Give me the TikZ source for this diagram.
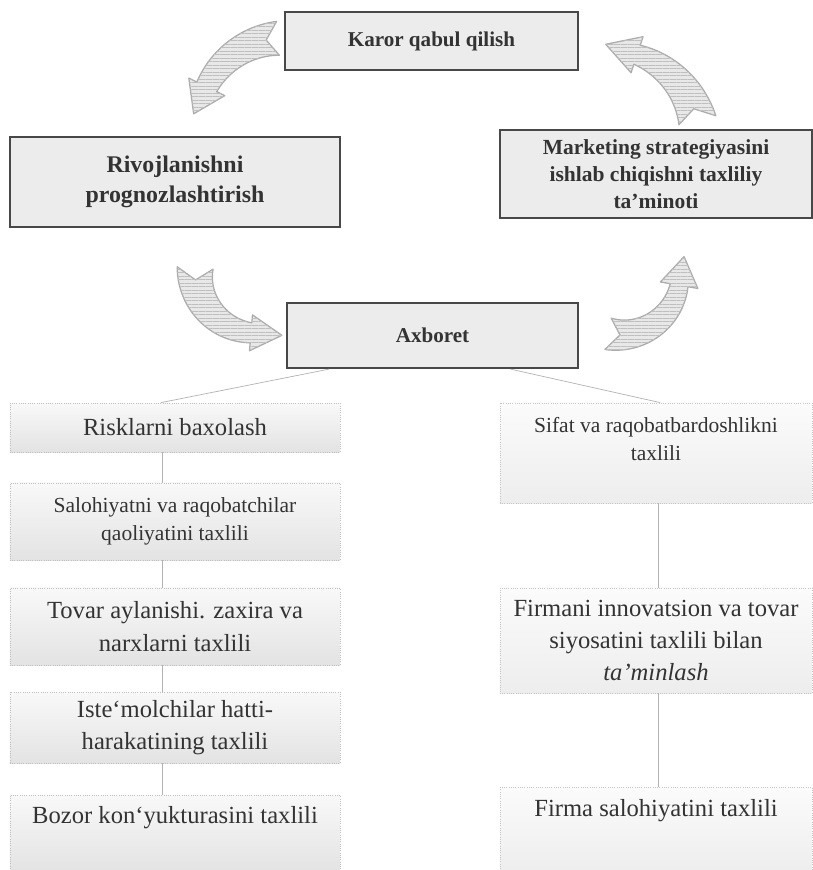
\documentclass[tikz,border=0pt]{standalone}
\usepackage{fontspec}
\setmainfont{Liberation Serif}
\usetikzlibrary{calc,patterns.meta}
\definecolor{bordc}{HTML}{484848}
\definecolor{txtc}{HTML}{333333}
\definecolor{topfill}{HTML}{ECECEC}
\newcommand\curvedarrow[9]{%
  \pgfmathsetmacro\nD{(12/#3)*(180/pi)/abs(#5-(#4))}%
  \pgfmathsetmacro\nA{#4+(#5-(#4))*\nD}%
  \draw[blockarrow]
    plot[domain=#4:#5, samples=30, variable=\t]
      ({#1+(#3+#6+(#7-#6)*(\t-(#4))/((#5)-(#4)))*cos(\t)},
       {#2+(#3+#6+(#7-#6)*(\t-(#4))/((#5)-(#4)))*sin(\t)})
    -- ({#1+(#3+#8)*cos(#5)},{#2+(#3+#8)*sin(#5)})
    -- ({#1+#3*cos(#5)+#9*cos(#5-90)},{#2+#3*sin(#5)+#9*sin(#5-90)})
    -- ({#1+(#3-#8)*cos(#5)},{#2+(#3-#8)*sin(#5)})
    -- plot[domain=#5:#4, samples=30, variable=\t]
      ({#1+(#3-#6-(#7-#6)*(\t-(#4))/((#5)-(#4)))*cos(\t)},
       {#2+(#3-#6-(#7-#6)*(\t-(#4))/((#5)-(#4)))*sin(\t)})
    -- ({#1+#3*cos(\nA)},{#2+#3*sin(\nA)})
    -- cycle;
}
\begin{document}
\begin{tikzpicture}[x=0.025cm,y=-0.025cm,
  topbox/.style={draw=bordc, line width=1.6pt, fill=topfill, text=txtc,
    font=\bfseries\fontsize{15}{19}\selectfont, align=center, inner sep=0pt},
  lbox/.style={draw=gray!50, densely dotted, line width=0.6pt, top color=gray!5,
    bottom color=gray!22, text=txtc, align=center, inner sep=0pt},
  rbox/.style={draw=gray!45, densely dotted, line width=0.6pt, top color=gray!3,
    bottom color=gray!14, text=txtc, align=center, inner sep=0pt},
  txt/.style={text=txtc, align=center, inner sep=0pt},
  big/.style={font=\fontsize{17.5}{23}\selectfont},
  small/.style={font=\fontsize{15.3}{20}\selectfont},
  conn/.style={draw=gray!60, line width=0.5pt},
  blockarrow/.style={fill=gray!18, draw=gray!65, line width=0.9pt, line join=round,
    postaction={pattern={Lines[angle=0,distance=2.5pt,line width=0.35pt]}, pattern color=gray!50}}
]
\useasboundingbox (0,0) rectangle (813,870);

% curved block arrows
\curvedarrow{285}{125}{87}{-94.6}{-154}{17}{11}{20}{30}
\curvedarrow{608}{142}{92}{-13.7}{-71.6}{19}{10}{19}{33}
\curvedarrow{256}{272}{61}{183.8}{94.7}{18}{10}{18}{31}
\curvedarrow{620}{275}{60}{101.5}{9.8}{16}{9}{19}{29}

% top boxes
\node[topbox, minimum width=7.325cm, minimum height=1.45cm] (karor) at (431.5,41) {Karor qabul qilish};
\node[topbox, font=\bfseries\fontsize{17}{21}\selectfont, minimum width=8.25cm, minimum height=2.25cm] (rivoj) at (175,182) {Rivojlanishni\\prognozlashtirish};
\node[topbox, font=\bfseries\fontsize{15.3}{19}\selectfont, minimum width=7.8cm, minimum height=2.2cm] (mark) at (656,174) {Marketing strategiyasini\\ishlab chiqishni taxliliy\\ta'minoti};
\node[topbox, minimum width=7.275cm, minimum height=1.625cm] (axb) at (432.5,335.5) {Axboret};

% left column
\node[lbox, big, minimum width=8.25cm, minimum height=1.225cm] (risk) at (175,427.5) {Risklarni baxolash};
\node[lbox, small, minimum width=8.25cm, minimum height=1.925cm] (salo) at (175,521.5) {Salohiyatni va raqobatchilar\\qaoliyatini taxlili};
\node[lbox, big, minimum width=8.25cm, minimum height=1.925cm] (tovar) at (175,626.5) {Tovar aylanishi. zaxira va\\narxlarni taxlili};
\node[lbox, big, minimum width=8.25cm, minimum height=1.775cm] (istem) at (175,727.5) {Iste`molchilar hatti-\\harakatining taxlili};
\node[lbox, minimum width=8.25cm, minimum height=1.925cm] (bozor) at (175,833.5) {};
\node[txt, big] (bozort) at (175,818) {Bozor kon`yukturasini taxlili};

% right column
\node[rbox, minimum width=7.8cm, minimum height=2.5cm] (sifat) at (656,453) {};
\node[txt, small] (sifatt) at (656,439) {Sifat va raqobatbardoshlikni\\taxlili};
\node[rbox, big, minimum width=7.8cm, minimum height=2.625cm] (firm) at (656,640.5) {Firmani innovatsion va tovar\\siyosatini taxlili bilan\\\textit{ta'minlash}};
\node[rbox, minimum width=7.8cm, minimum height=2.125cm] (firma) at (656,830) {};
\node[txt, big] (firmat) at (656,811) {Firma salohiyatini taxlili};

% connectors
\coordinate (lx) at (162,0);
\coordinate (rx) at (658,0);
\draw[conn] ($(axb.south west)!0.147!(axb.south east)$) -- ($(risk.north west)!0.458!(risk.north east)$);
\draw[conn] ($(axb.south west)!0.766!(axb.south east)$) -- ($(sifat.north west)!0.513!(sifat.north east)$);
\draw[conn] (risk.south -| lx) -- (salo.north -| lx);
\draw[conn] (salo.south -| lx) -- (tovar.north -| lx);
\draw[conn] (tovar.south -| lx) -- (istem.north -| lx);
\draw[conn] (istem.south -| lx) -- (bozor.north -| lx);
\draw[conn] (sifat.south -| rx) -- (firm.north -| rx);
\draw[conn] (firm.south -| rx) -- (firma.north -| rx);
\end{tikzpicture}
\end{document}
